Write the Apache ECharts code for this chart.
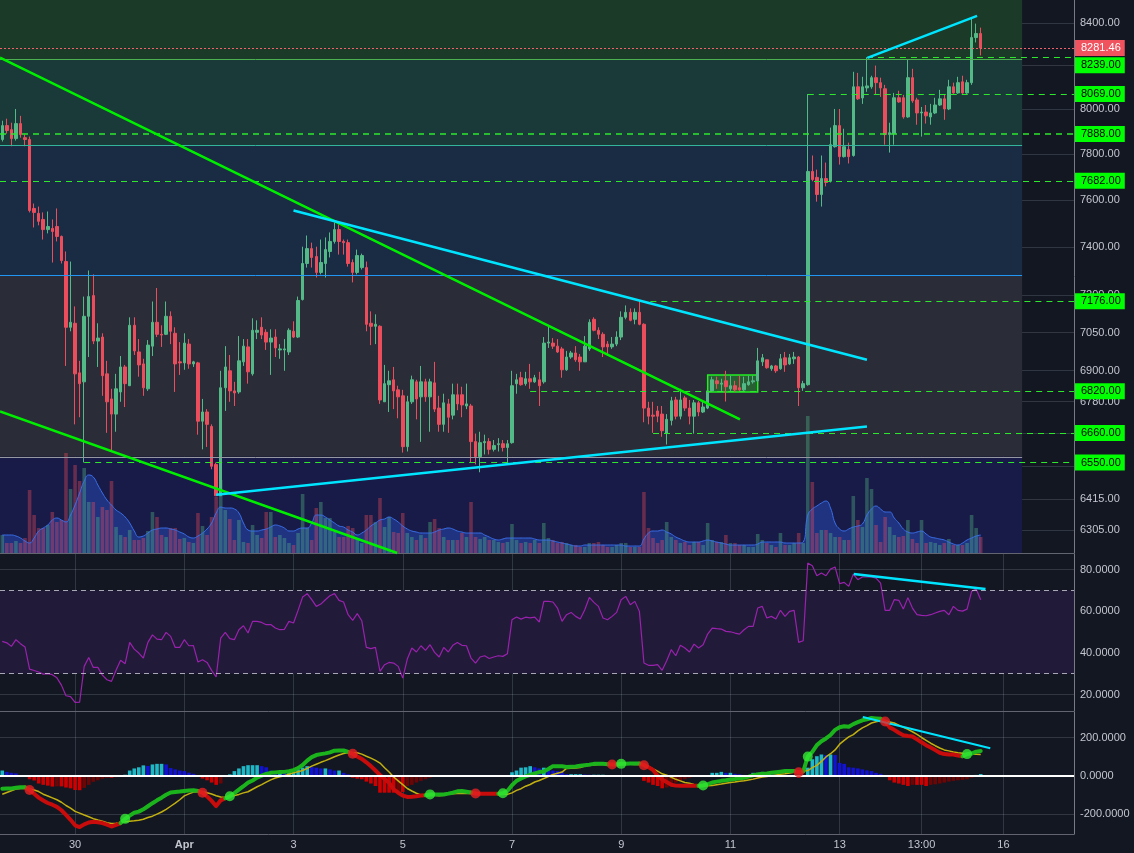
<!DOCTYPE html>
<html>
<head>
<meta charset="utf-8">
<script src="https://cdn.jsdelivr.net/npm/echarts@6/dist/echarts.min.js"></script>
<style>
html,body{margin:0;padding:0;background:#131722;}
#chart{width:1134px;height:853px;}
</style>
</head>
<body>
<div id="chart"></div>
<script>
// 2h candles: [open, close, low, high]
var candles = [
[7864,7926,7855,7948],[7926,7904,7890,7957],[7908,7868,7834,7939],[7868,7935,7859,8001],[7935,7886,7872,7970],
[7872,7864,7834,7886],[7864,7554,7546,7877],[7563,7546,7482,7584],[7542,7508,7491,7571],[7516,7473,7431,7546],
[7473,7486,7457,7550],[7478,7465,7335,7516],[7486,7444,7423,7563],[7444,7343,7331,7448],[7339,7071,6918,7381],
[7071,7091,7055,7339],[7087,6887,6693,7155],[6891,6849,6720,6938],[6856,7115,6550,7195],[7115,7195,6953,7302],
[7199,7016,7004,7286],[7016,7028,6914,7087],[7032,6880,6802,7047],[6887,6779,6661,6938],[6790,6732,6591,6829],
[6732,6829,6665,6887],[6817,6914,6779,6957],[6914,6849,6759,6922],[6841,7079,6841,7111],[7079,6977,6961,7111],
[6973,6922,6876,7024],[6926,6833,6802,6946],[6829,7000,6821,7020],[6996,7091,6957,7175],[7091,7043,7032,7230],
[7043,7040,6993,7079],[7043,7115,7040,7175],[7115,7055,7004,7135],[7047,6926,6817,7071],[6934,6930,6883,7012],
[6930,7008,6903,7047],[7004,6926,6907,7024],[6926,6934,6914,6938],[6930,6705,6654,6934],[6705,6740,6599,6790],
[6740,6693,6608,6751],[6685,6536,6525,6693],[6543,6428,6428,6550],[6428,6833,6428,6899],[6833,6914,6744,6996],
[6899,6821,6779,6961],[6821,6813,6763,6856],[6817,6938,6810,7036],[6934,6996,6918,7024],[6993,6895,6849,7024],
[6887,7059,6880,7107],[7051,7059,7024,7099],[7071,7040,7024,7111],[7051,7012,6981,7063],[7012,7028,6883,7063],
[7032,6989,6953,7063],[6981,6985,6946,7004],[6981,6985,6899,7024],[6973,7059,6961,7067],[7055,7032,7028,7095],
[7032,7179,7028,7195],[7183,7331,7179,7401],[7331,7393,7314,7448],[7393,7356,7314,7418],[7360,7294,7273,7401],
[7294,7335,7286,7431],[7331,7389,7273,7440],[7381,7423,7356,7461],[7423,7473,7414,7503],[7473,7423,7368,7495],
[7423,7418,7368,7431],[7418,7331,7318,7431],[7335,7294,7253,7348],[7294,7364,7286,7389],[7314,7364,7306,7372],
[7314,7083,7055,7339],[7087,7075,7000,7135],[7075,7083,7004,7123],[7075,6786,6771,7079],[6779,6849,6779,6922],
[6845,6860,6740,6899],[6864,6821,6751,6914],[6825,6798,6716,6841],[6802,6609,6587,6825],[6609,6779,6591,6802],
[6779,6864,6771,6880],[6856,6790,6712,6864],[6798,6856,6627,6918],[6856,6798,6779,6868],[6798,6856,6665,6868],
[6852,6751,6740,6934],[6755,6693,6665,6802],[6693,6775,6665,6810],[6771,6720,6661,6790],[6728,6806,6712,6849],
[6806,6771,6747,6849],[6806,6767,6720,6837],[6763,6771,6751,6849],[6763,6628,6550,6771],[6628,6572,6543,6658],
[6572,6624,6514,6665],[6624,6628,6580,6654],[6628,6599,6580,6641],[6599,6613,6591,6634],[6617,6620,6591,6641],
[6620,6606,6591,6634],[6606,6620,6550,6634],[6624,6841,6620,6899],[6849,6864,6810,6887],[6872,6845,6841,6895],
[6849,6868,6841,6895],[6868,6856,6829,6926],[6856,6872,6852,6883],[6864,6841,6763,6895],[6856,7008,6849,7032],
[7008,7012,6989,7075],[7008,6996,6985,7028],[6996,6973,6969,7024],[6985,6903,6872,6993],[6903,6953,6899,6977],
[6953,6969,6946,6977],[6969,6942,6934,6996],[6953,6934,6899,6965],[6934,6996,6934,7036],[6985,7091,6977,7103],
[7103,7059,7055,7111],[7059,7043,7024,7071],[7043,6993,6953,7051],[7004,6993,6957,7016],[6993,7004,6985,7032],
[7004,7032,6996,7055],[7032,7111,7020,7135],[7111,7131,7103,7159],[7131,7099,7095,7147],[7103,7131,7083,7147],
[7131,7083,7079,7176],[7083,6755,6701,7087],[6755,6724,6693,6779],[6728,6724,6661,6779],[6744,6724,6701,6763],
[6732,6669,6646,6763],[6660,6712,6617,6732],[6708,6783,6689,6798],[6786,6724,6712,6798],[6724,6786,6712,6829],
[6794,6755,6744,6802],[6755,6724,6693,6786],[6724,6775,6658,6786],[6775,6740,6724,6782],[6740,6759,6736,6779],
[6755,6821,6751,6821],[6821,6864,6817,6876],[6860,6849,6829,6876],[6847,6851,6821,6868],[6860,6837,6780,6899],
[6829,6841,6821,6880],[6841,6825,6817,6860],[6833,6825,6821,6880],[6825,6849,6821,6876],[6845,6856,6841,6880],
[6856,6860,6849,6880],[6860,6938,6856,6989],[6934,6950,6918,6965],[6942,6911,6907,6942],[6907,6918,6899,6922],
[6918,6899,6891,6922],[6907,6946,6903,6965],[6950,6922,6895,6973],[6926,6950,6922,6965],[6946,6953,6926,6973],
[6953,6833,6763,6957],[6833,6849,6821,6860],[6845,7723,6841,8069],[7723,7688,7680,7793],[7697,7623,7592,7731],
[7623,7692,7571,7793],[7692,7675,7658,7762],[7680,7841,7675,7917],[7832,7926,7828,8001],[7926,7788,7753,8001],
[7788,7832,7784,7912],[7819,7788,7758,7850],[7793,8102,7788,8171],[8102,8047,8042,8166],[8051,8102,8024,8148],
[8097,8106,8079,8239],[8102,8144,8093,8153],[8144,8121,8065,8200],[8121,8097,8056,8144],[8093,7886,7841,8111],
[7886,7894,7806,7939],[7890,8052,7841,8074],[8052,8033,8029,8084],[8052,7965,7957,8065],[7965,8144,7961,8230],
[8144,8038,8029,8185],[8042,7983,7930,8052],[7983,7987,7877,8010],[7987,7970,7935,8019],[7965,7983,7930,8024],
[7983,8019,7978,8052],[8019,8047,8015,8088],[8047,8001,7952,8065],[8001,8102,7996,8134],[8102,8074,8070,8121],
[8074,8121,8070,8148],[8125,8074,8070,8153],[8074,8121,8070,8134],[8121,8331,8111,8420],[8331,8350,8308,8397],
[8350,8281.46,8247,8378]
];

var volume = [
18,10,10,12,10,15,63,38,25,25, 28,41,31,33,100,64,88,72,85,51,
51,36,46,43,72,26,18,16,23,13, 13,15,22,41,36,18,16,25,25,14,
15,11,10,40,27,18,36,56,73,43, 34,13,33,11,10,28,18,15,41,41,
16,18,15,10,8,20,59,25,13,45, 51,35,35,21,16,16,27,25,14,10,
38,38,31,55,26,36,21,20,40,20, 16,13,18,15,31,34,25,16,13,13,
13,20,16,51,16,14,16,13,13,11, 10,11,29,13,10,11,10,13,10,30,
15,13,10,11,10,8,8,6,6,10, 10,11,8,6,6,8,10,10,6,6,
6,61,25,15,10,13,31,16,13,10, 11,8,11,11,8,30,13,11,11,18,
10,10,8,8,6,6,19,13,10,8, 6,20,8,8,10,20,10,137,71,20,
23,23,20,16,16,13,13,57,33,26, 75,64,28,11,36,26,18,16,17,33,
14,10,33,10,11,10,8,10,14,8, 8,8,10,38,25,16
];

var volumeMA = [
18,18,18,17,15, 12,10,15,22,25, 28,33,35,33,31, 38,48,60,72,78,
76,68,60,53,48, 43,40,36,30,22, 16,17,20,23,24, 25,25,24,23,21,
19,16,15,17,20, 24,30,40,46,45, 45,44,40,30,23, 22,22,23,24,26,
28,27,25,22,22, 24,25,25,30,38, 38,36,33,30,27, 26,23,21,18,20,
23,27,30,33,34, 36,34,31,27,24, 22,21,20,20,20, 21,23,24,25,24,
22,21,20,20,20, 20,18,16,14,13, 14,15,15,15,15, 15,15,14,13,13,
13,12,11,10,9, 8,7,7,8,8, 8,8,8,8,8, 8,8,7,7,7,
7,14,20,22,22, 23,21,19,16,14, 12,11,11,11,12, 13,12,11,10,9,
8,8,8,8,8, 8,9,11,11,11, 11,11,10,10,10, 10,11,38,44,47,
50,52,45,30,24, 22,24,26,27,29, 38,44,47,44,41, 41,35,30,24,21,
20,21,22,19,16, 15,14,13,11,9, 8,10,13,15,17, 18
];

var rsi = [
45.5,44.8,43.1,46.3,44.4,42.8,32.2,31.5,30.8,29.8,
30.0,29.5,28,24.5,19.4,19.0,16.2,16.3,33.5,37.8,
33,33,29.3,27.1,26.3,31.6,36.4,34.8,45,41.8,
39.9,37.5,45,48.6,46.6,46.3,49.8,47.9,42.6,42.6,
46.3,43.4,43.5,35.6,36.7,35.4,31.6,28.4,47.1,49.8,
46.8,46.3,51.1,53,49.5,55.1,55.1,54.6,53.5,53.6,
51.9,51.1,51.3,55.1,54.3,60.4,66.8,68.4,65.5,62.3,
63.4,65.5,67.4,68.4,65.2,64.4,58.3,55.6,58.8,55.4,
42.6,42,42.6,31.1,34.3,35.4,35.1,33.5,27.9,37,
42.3,40.4,43.4,41.2,43.9,40.2,38,42.6,40.4,43.6,
45,43.6,43.4,37.5,35.1,38,38.6,37.3,38,38.6,
38.3,39.6,55.9,57.2,56.2,57.1,56.8,57.1,54.8,64.7,
64.7,64.4,61.5,55.1,58.3,59.4,57.5,56.2,60.7,66.6,
64.2,62.3,56.7,55.9,57.5,59.4,65.5,67.1,63.1,64.7,
59.9,35.1,34,34,34.3,31.6,36.2,41.5,38.6,43.6,
42.3,40.4,44.2,42.3,43.9,49,51.9,51.6,51.4,50.3,
50.1,49.5,49,51.1,52.7,52.7,61.5,62.3,56.7,57.5,
56.2,60.4,57.5,59.9,60.4,45,45.8,83.1,81.8,77,
78.3,77,80.2,81.2,73.2,73.8,71.9,77.8,75.1,76.4,
76.4,76.4,75.9,73.5,60.4,60.4,65.5,65.2,61,66.5,
61.5,58.3,58,57.8,58.3,59.1,59.9,60.4,58.3,62.3,
60.4,60,61,69.5,70.6,65.5
];

var macd = [
-68,-67,-67,-63,-60,-61,-75,-95,-115,-130,
-143,-152,-163,-181,-205,-231,-260,-269,-255,-245,
-241,-244,-248,-256,-266,-258,-248,-226,-209,-194,
-188,-176,-160,-144,-129,-115,-100,-88,-85,-83,
-80,-77,-76,-80,-89,-108,-132,-159,-129,-118,
-108,-91,-73,-55,-36,-25,-10,0,9,15,
17,19,20,23,29,40,56,79,97,108,
113,117,122,131,132,132,124,115,101,88,
70,50,27,4,-17,-37,-71,-89,-104,-111,
-110,-108,-104,-102,-98,-98,-98,-98,-94,-89,
-82,-80,-84,-88,-93,-94,-94,-94,-94,-94,
-92,-80,-50,-27,-15,-4,4,12,19,22,
35,50,50,49,46,47,48,52,55,58,
62,62,62,60,59,59,62,62,64,64,
64,55,45,30,0,-20,-33,-47,-52,-53,
-53,-53,-53,-53,-51,-44,-36,-31,-27,-24,
-20,-17,-13,-11,-5,2,6,10,12,15,
18,21,24,24,24,18,22,100,125,160,
180,195,213,240,254,259,256,270,280,290,
295,302,300,298,284,253,240,225,212,208,
205,190,175,160,147,134,120,113,111,111,
106,102,113,116,126,129
];

var signal = [
-97,-88,-79,-70,-67,-67,-69,-75,-83,-97,
-106,-116,-126,-139,-156,-170,-187,-196,-206,-215,
-225,-232,-238,-246,-250,-249,-246,-241,-238,-236,
-233,-228,-219,-212,-201,-190,-176,-160,-144,-126,
-106,-95,-86,-84,-84,-89,-96,-105,-112,-114,
-109,-104,-98,-90,-84,-71,-58,-47,-34,-22,
-12,-6,0,8,15,21,27,38,50,60,
70,79,89,99,108,116,120,120,120,113,
102,92,80,66,42,19,-7,-27,-47,-67,
-80,-92,-101,-101,-101,-103,-105,-103,-96,-94,
-93,-92,-93,-93,-92,-93,-93,-93,-93,-93,
-94,-98,-90,-77,-68,-55,-46,-33,-25,-15,
-4,6,13,19,38,39,40,43,50,54,
56,59,59,59,60,60,60,61,60,59,
59,59,48,36,24,10,3,-8,-19,-27,
-36,-40,-46,-49,-52,-53,-51,-47,-44,-40,
-36,-33,-29,-26,-22,-18,-12,-7,-4,0,
4,8,10,14,18,20,23,27,42,54,
75,98,115,135,165,185,203,215,235,250,
262,276,282,288,286,281,276,265,253,243,
230,216,200,185,170,157,145,135,130,124,
120,118,112,113,112,111
];

var hist = [
27,20,15,12,2,-2,-19,-25,-41,-48,
-52,-57,-56,-56,-62,-66,-75,-76,-64,-48,
-32,-24,-16,-11,-11,-8,0,5,27,38,
44,54,51,59,62,62,59,40,33,27,
24,16,10,3,-15,-24,-36,-48,-41,-8,
7,24,38,50,55,55,55,50,44,27,
24,24,20,20,23,33,42,50,46,42,
38,38,33,27,27,15,7,-11,-16,-19,
-31,-41,-54,-89,-89,-89,-89,-80,-85,-54,
-48,-36,-27,-19,-11,-5,-2,-2,1,2,
3,2,2,-2,-2,-1,-1,-1,-2,-2,
-1,1,18,27,42,44,50,44,38,42,
33,27,24,20,8,8,8,8,6,5,
5,5,5,3,-3,-3,-2,-1,0,0,
0,-27,-36,-48,-54,-66,-62,-45,-36,-27,
-19,-11,-4,0,0,2,15,15,20,15,
15,10,7,4,2,15,15,20,15,10,
7,3,0,-2,-5,-11,-8,42,86,102,
111,108,111,108,67,62,44,42,38,33,
28,24,15,10,0,-24,-36,-41,-48,-54,
-48,-48,-48,-54,-48,-45,-41,-36,-31,-27,
-24,-22,-19,-11,4,9
];

var dayTicks = [16, 40, 64, 88, 112, 136, 160, 184, 202, 220];
var dayLabels = ['30', 'Apr', '3', '5', '7', '9', '11', '13', '13:00', '16'];
var priceTicks = [8400, 8200, 8000, 7800, 7600, 7400, 7200, 7050, 6900, 6780, 6660, 6535, 6415, 6305];
var rsiTicks = [20, 40, 60, 80];
var macdTicks = [-200, 0, 200];

// horizontal levels drawn on the chart, with where they start
var levels = [8239, 8069, 7888, 7682, 7176, 6820, 6660, 6550];
var levelStarts = [190, 177, -0.5, -0.5, 140, 116, 143, 18];
// background zones (top to bottom)
var zoneEdges = [8510, 8230, 7839, 7281, 6571, 6223];
var zoneColors = ['#1b3a27', '#1a3a39', '#1a2c44', '#2a2d38', '#181a47'];
var zoneLineColors = ['#4caf50', '#33b59c', '#2196f3', '#9598a1'];

// drawings in data space: [index, value]
var greenLines = [[[-0.5, 8237], [162.1, 6712]], [[-0.5, 6742], [86.75, 6223]]];
var cyanLines = [[[64.0, 7554], [190.0, 6942]], [[47.0, 6432], [190.0, 6685]], [[190.1, 8236], [214.2, 8434]]];
var boxArea = [[155, 6883], [166, 6817]];
var rsiTrend = [[187.1, 77.8], [216.05, 70.6]];
var macdTrend = [[189.1, 307], [217.1, 143.5]];

var xMin = -0.5, xMax = 235.5, zoneEnd = 224.1;
var font = 'Liberation Sans, Arial, sans-serif';
var txt = '#c3c6ce';
var gridCol = 'rgba(170,180,200,0.2)';
var upCol = '#53b987', downCol = '#eb4d5c';

var chart = echarts.init(document.getElementById('chart'));

function xAxisFor(gi, labels) {
  return {
    type: 'value', gridIndex: gi, min: xMin, max: xMax, z: 1,
    axisLine: {show: true, onZero: false, lineStyle: {color: '#62656f'}},
    axisTick: {show: false, customValues: dayTicks},
    splitLine: {show: true, lineStyle: {color: gridCol}},
    axisLabel: labels ? {
      customValues: dayTicks, color: txt, fontSize: 11, fontFamily: font, margin: 5,
      formatter: function (v) {
        var s = dayLabels[dayTicks.indexOf(Math.round(v))];
        return s === 'Apr' ? '{b|Apr}' : s;
      },
      rich: {b: {fontWeight: 'bold', color: txt, fontSize: 11, fontFamily: font}}
    } : {show: false}
  };
}

function yAxisFor(gi, type, min, max, ticks, digits) {
  return {
    type: type, gridIndex: gi, position: 'right', min: min, max: max, z: 1,
    axisLine: {show: true, onZero: false, lineStyle: {color: '#787b86'}},
    axisTick: {show: false, customValues: ticks},
    splitLine: {show: true, lineStyle: {color: gridCol}},
    axisLabel: {customValues: ticks, color: txt, fontSize: 11, fontFamily: font, margin: 6,
      formatter: function (v) { return Number(v).toFixed(digits); }}
  };
}

var candleData = candles.map(function (c, i) { return [i, c[0], c[1], c[2], c[3]]; });
var isUp = candles.map(function (c) { return c[1] >= c[0]; });

// zones
var zoneAreas = [], zoneLines = [];
for (var z = 0; z < zoneColors.length; z++) {
  zoneAreas.push([{coord: [xMin, zoneEdges[z]], itemStyle: {color: zoneColors[z]}}, {coord: [zoneEnd, zoneEdges[z + 1]]}]);
}
for (z = 0; z < zoneLineColors.length; z++) {
  zoneLines.push([{coord: [xMin, zoneEdges[z + 1]], lineStyle: {color: zoneLineColors[z], width: 1, type: 'solid'}}, {coord: [zoneEnd, zoneEdges[z + 1]]}]);
}

function tagLabel(bg, fg, offset) {
  return {show: true, position: 'end', distance: 1, color: fg, backgroundColor: bg,
    padding: [2, 4, 1, 6], fontSize: 11, lineHeight: 13, fontFamily: font, offset: offset || [0, 0],
    formatter: function (p) { return Number(p.value).toFixed(2); }};
}

var overlayLines = [];
var lastPrice = candles[candles.length - 1][1];
overlayLines.push([{coord: [xMin, lastPrice], value: lastPrice, lineStyle: {color: '#f0606a', width: 1, type: [2, 2]}, label: tagLabel('#f0525e', '#ffffff')}, {coord: [xMax, lastPrice]}]);
levels.forEach(function (p, k) {
  overlayLines.push([{coord: [levelStarts[k], p], value: p,
    lineStyle: {color: '#2ee82e', width: p === 7888 ? 1.5 : 1, type: [6, 5]},
    label: tagLabel('#00ff00', '#000000', p === 8239 ? [0, 8] : null)}, {coord: [xMax, p]}]);
});
greenLines.forEach(function (l) {
  overlayLines.push([{coord: l[0], lineStyle: {color: '#00ee00', width: 2.5, type: 'solid'}, label: {show: false}}, {coord: l[1]}]);
});
cyanLines.forEach(function (l) {
  overlayLines.push([{coord: l[0], lineStyle: {color: '#00e5ff', width: 2.5, type: 'solid'}, label: {show: false}}, {coord: l[1]}]);
});

// MACD line coloured by position against the signal line
var macdUp = macd.map(function (v, i) { return v >= signal[i]; });
var n = macd.length;
var macdGreen = macd.map(function (v, i) { return [i, (macdUp[i] || (i + 1 < n && macdUp[i + 1])) ? v : '-']; });
var macdRed = macd.map(function (v, i) { return [i, (!macdUp[i] || (i + 1 < n && !macdUp[i + 1])) ? v : '-']; });
var crossDots = [];
for (var i = 1; i < n; i++) {
  if (macdUp[i] !== macdUp[i - 1]) crossDots.push({value: [i, macd[i]], itemStyle: {color: macdUp[i] ? '#33e833' : '#e62222'}});
}
function histColor(i) {
  var h = hist[i], p = i > 0 ? hist[i - 1] : h;
  if (h >= 0) return h >= p ? '#1fb8c6' : '#1212d2';
  return h <= p ? '#d00000' : '#6e0505';
}

var option = {
  backgroundColor: '#131722',
  animation: false,
  grid: [
    {left: 0, right: 60, top: 0, height: 553},
    {left: 0, right: 60, top: 403, height: 150},
    {left: 0, right: 60, top: 554, height: 157},
    {left: 0, right: 60, top: 712, height: 122}
  ],
  xAxis: [
    xAxisFor(0, false),
    {type: 'value', gridIndex: 1, min: xMin, max: xMax, show: false},
    xAxisFor(2, false),
    xAxisFor(3, true)
  ],
  yAxis: [
    {type: 'log', logBase: 10, gridIndex: 0, position: 'right', min: 6223, max: 8510, z: 1,
      axisLine: {show: true, onZero: false, lineStyle: {color: '#787b86'}},
      axisTick: {show: false, customValues: priceTicks},
      splitLine: {show: true, lineStyle: {color: gridCol}},
      axisLabel: {customValues: priceTicks, color: txt, fontSize: 11, fontFamily: font, margin: 6,
        formatter: function (v) { return Number(v).toFixed(2); }}},
    {type: 'value', gridIndex: 1, min: 0, max: 150, show: false},
    yAxisFor(2, 'value', 12.08, 87.44, rsiTicks, 4),
    yAxisFor(3, 'value', -305.3, 333.5, macdTicks, 4)
  ],
  series: [
    {type: 'line', xAxisIndex: 0, yAxisIndex: 0, data: [], z: 0, silent: true,
      markArea: {silent: true, data: zoneAreas},
      markLine: {silent: true, symbol: 'none', label: {show: false}, data: zoneLines}},
    {type: 'bar', xAxisIndex: 1, yAxisIndex: 1, z: 2, barWidth: 3.6,
      data: volume.map(function (v, i) { return [i, v]; }),
      itemStyle: {color: function (p) { return isUp[p.dataIndex] ? 'rgba(83,185,135,0.38)' : 'rgba(235,77,92,0.38)'; }}},
    {type: 'line', xAxisIndex: 1, yAxisIndex: 1, z: 2, smooth: true, symbol: 'none',
      data: volumeMA.map(function (v, i) { return [i, v]; }),
      lineStyle: {color: '#3a6fe8', width: 1}, areaStyle: {color: 'rgba(45,100,235,0.5)'}},
    {type: 'candlestick', xAxisIndex: 0, yAxisIndex: 0, z: 3, barWidth: 3,
      encode: {x: 0, y: [1, 2, 3, 4]}, data: candleData,
      itemStyle: {color: upCol, color0: downCol, borderColor: upCol, borderColor0: downCol, borderWidth: 1}},
    {type: 'line', xAxisIndex: 0, yAxisIndex: 0, data: [], z: 5, silent: true,
      markLine: {silent: true, symbol: 'none', data: overlayLines},
      markArea: {silent: true, data: [[{coord: boxArea[0], itemStyle: {color: 'rgba(40,230,40,0.28)', borderColor: '#22ee22', borderWidth: 1.5}}, {coord: boxArea[1]}]]}},
    // RSI
    {type: 'line', xAxisIndex: 2, yAxisIndex: 2, data: [], z: 0, silent: true,
      markArea: {silent: true, data: [[{yAxis: 70, itemStyle: {color: '#221a39'}}, {yAxis: 30}]]}},
    {type: 'line', xAxisIndex: 2, yAxisIndex: 2, z: 3, symbol: 'none',
      data: rsi.map(function (v, i) { return [i, v]; }),
      lineStyle: {color: '#9a22ae', width: 1.2},
      markLine: {silent: true, symbol: 'none', label: {show: false}, data: [
        {yAxis: 70, lineStyle: {color: 'rgba(215,215,225,0.75)', width: 1, type: [5, 4]}},
        {yAxis: 30, lineStyle: {color: 'rgba(215,215,225,0.75)', width: 1, type: [5, 4]}},
        [{coord: rsiTrend[0], lineStyle: {color: '#00e5ff', width: 2.5, type: 'solid'}}, {coord: rsiTrend[1]}]
      ]}},
    // MACD
    {type: 'bar', xAxisIndex: 3, yAxisIndex: 3, z: 2, barWidth: 3.6,
      data: hist.map(function (v, i) { return [i, v]; }),
      itemStyle: {color: function (p) { return histColor(p.dataIndex); }},
      markLine: {silent: true, symbol: 'none', label: {show: false}, data: [
        {yAxis: 0, lineStyle: {color: '#ffffff', width: 2, type: 'solid'}}
      ]}},
    {type: 'line', xAxisIndex: 3, yAxisIndex: 3, z: 3, symbol: 'none',
      data: signal.map(function (v, i) { return [i, v]; }),
      lineStyle: {color: '#c2b010', width: 1.5}},
    {type: 'line', xAxisIndex: 3, yAxisIndex: 3, z: 4, symbol: 'none', connectNulls: false,
      data: macdRed, lineStyle: {color: '#c80c0c', width: 4, join: 'round', cap: 'round'}},
    {type: 'line', xAxisIndex: 3, yAxisIndex: 3, z: 4, symbol: 'none', connectNulls: false,
      data: macdGreen, lineStyle: {color: '#1cb41c', width: 4, join: 'round', cap: 'round'}},
    {type: 'scatter', xAxisIndex: 3, yAxisIndex: 3, z: 5, symbolSize: 10, data: crossDots},
    {type: 'line', xAxisIndex: 3, yAxisIndex: 3, data: [], z: 6, silent: true,
      markLine: {silent: true, symbol: 'none', label: {show: false}, data: [
        [{coord: macdTrend[0], lineStyle: {color: '#00e5ff', width: 2, type: 'solid'}}, {coord: macdTrend[1]}]
      ]}}
  ]
};
chart.setOption(option);
</script>
</body>
</html>
